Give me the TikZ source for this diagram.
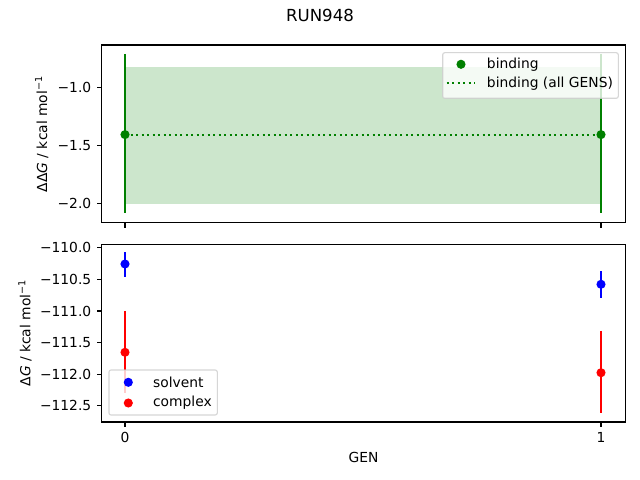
\documentclass[tikz,border=0pt]{standalone}
\usepackage{fontspec}
\setmainfont{DejaVu Sans}
\usepackage{tikz}
\usetikzlibrary{calc}
\definecolor{mplgreen}{RGB}{0,128,0}
\definecolor{mplband}{RGB}{204,230,204}
\definecolor{mplframe}{RGB}{204,204,204}
\def\errpoint[#1](#2,#3)(#4:#5){\draw[#1, line width=1.5pt] (#2, #4) -- (#2, #5); \fill[#1] (#2, #3) circle (3.3pt);}

\begin{document}
\begin{tikzpicture}[x=0.254mm, y=-0.254mm, font=\fontsize{10}{12}\selectfont]
				%%%%% START %%%%%
				\useasboundingbox[fill=white] (0, 0) rectangle (640, 480);
				\node (title) at (320, 15.5) {\fontsize{12}{14}\selectfont RUN948};
				
				%%%%% top axes
				\fill[mplband] (125, 67.3) rectangle (601, 204.3);
				\draw[mplgreen, line width=1.5pt, dash pattern=on 1.5pt off 2.475pt] (125, 134.6) -- (601, 134.6);
				\errpoint[mplgreen](125, 134.6)(54:212.7);
				\errpoint[mplgreen](601, 134.6)(54:212.7);
				\draw[line width=0.8pt] (101.5, 45) rectangle (625.7, 222.7);
				
				\draw[line width=0.8pt] (101.5, 87.3) -- ++(-3.5pt, 0);
				\draw[line width=0.8pt] (101.5, 145.3) -- ++(-3.5pt, 0);
				\draw[line width=0.8pt] (101.5, 203.3) -- ++(-3.5pt, 0);
				\draw[line width=0.8pt] (125, 222.7) -- ++(0, -3.5pt);
				\draw[line width=0.8pt] (601, 222.7) -- ++(0, -3.5pt);
				\node[anchor=east, inner sep=0] (tm10) at (91.5, 87.3) {−1.0};
				\node[anchor=east, inner sep=0] (tm15) at (91.5, 145.3) {−1.5};
				\node[anchor=east, inner sep=0] (tm20) at (91.5, 203.3) {−2.0};
				\node[rotate=90] (ddglabel) at (41.7, 134) {ΔΔ\textit{G} / kcal mol\textsuperscript{−1}};
				
				\draw[mplframe, fill=white, fill opacity=0.8, draw opacity=0.8, line width=0.8pt, rounded corners=1.5pt] (442.7, 52.7) rectangle (618.3, 98.3);
				\fill[mplgreen] (461, 64.3) circle (3.3pt);
				\node[anchor=west, inner sep=0] (bindtext) at (486.7, 64.3) {binding};
				\draw[mplgreen, line width=1.5pt, dash pattern=on 1.5pt off 2.475pt] (446.7, 83.3) -- (475, 83.3);
				\node[anchor=west, inner sep=0] (alltext) at (486.7, 83.3) {binding (all GENS)};
				
				%%%%% bottom axes
				\errpoint[blue](125, 264)(252.3:276.7);
				\errpoint[red](125, 352.3)(311:393.3);
				\errpoint[blue](601, 284.3)(271.3:297.7);
				\errpoint[red](601, 372.7)(331:413.3);
				\draw[line width=0.8pt] (101.5, 244.7) rectangle (625.7, 422);
				
				\draw[line width=0.8pt] (101.5, 247.7) -- ++(-3.5pt, 0);
				\draw[line width=0.8pt] (101.5, 279.3) -- ++(-3.5pt, 0);
				\draw[line width=0.8pt] (101.5, 311) -- ++(-3.5pt, 0);
				\draw[line width=0.8pt] (101.5, 342.6) -- ++(-3.5pt, 0);
				\draw[line width=0.8pt] (101.5, 374.2) -- ++(-3.5pt, 0);
				\draw[line width=0.8pt] (101.5, 405.7) -- ++(-3.5pt, 0);
				\node[anchor=east, inner sep=0] (bm1100) at (91.5, 247.7) {−110.0};
				\node[anchor=east, inner sep=0] (bm1105) at (91.5, 279.3) {−110.5};
				\node[anchor=east, inner sep=0] (bm1110) at (91.5, 311) {−111.0};
				\node[anchor=east, inner sep=0] (bm1115) at (91.5, 342.6) {−111.5};
				\node[anchor=east, inner sep=0] (bm1120) at (91.5, 374.2) {−112.0};
				\node[anchor=east, inner sep=0] (bm1125) at (91.5, 405.7) {−112.5};
				\draw[line width=0.8pt] (125, 422) -- ++(0, -3.5pt);
				\draw[line width=0.8pt] (601, 422) -- ++(0, -3.5pt);
				\node (gen0) at (125, 437.7) {0};
				\node (gen1) at (601, 437.7) {1};
				\node (genlabel) at (363.6, 457) {GEN};
				\node[rotate=90] (dglabel) at (25, 333) {Δ\textit{G} / kcal mol\textsuperscript{−1}};
				
				\draw[mplframe, fill=white, fill opacity=0.8, draw opacity=0.8, line width=0.8pt, rounded corners=1.5pt] (109, 370) rectangle (217.3, 415);
				\fill[blue] (128.3, 382.3) circle (3.3pt);
				\node[anchor=west, inner sep=0] (solvtext) at (152.8, 382.3) {solvent};
				\fill[red] (128.3, 403) circle (3.3pt);
				\node[anchor=west, inner sep=0] (comptext) at (152.8, 403) {complex};
				%%%%% END %%%%%
\end{tikzpicture}
\end{document}
